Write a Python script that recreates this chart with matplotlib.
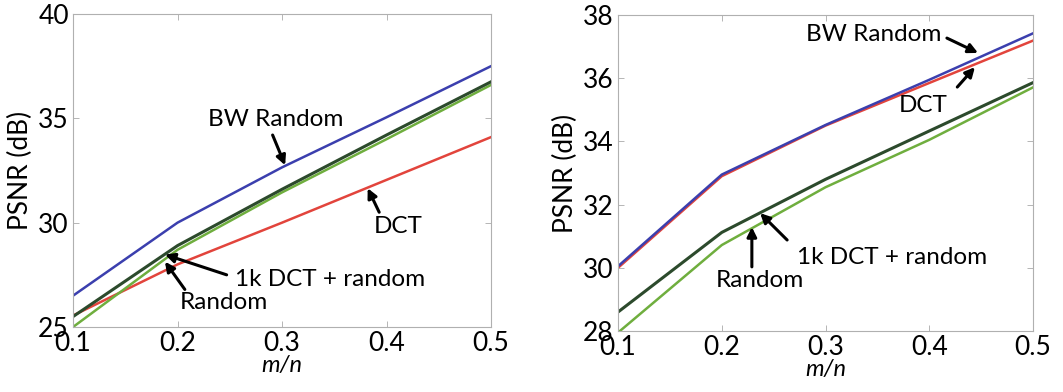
import matplotlib
matplotlib.use("Agg")
import matplotlib.pyplot as plt

plt.rcParams['font.family'] = ['Lato', 'DejaVu Sans']

x = [0.1, 0.2, 0.3, 0.4, 0.5]

# Left panel
left_bw = [26.5, 30.0, 32.65, 35.05, 37.5]
left_dct = [25.55, 28.0, 30.0, 32.05, 34.1]
left_1k = [25.5, 28.9, 31.6, 34.2, 36.75]
left_rand = [25.0, 28.7, 31.45, 34.0, 36.6]

# Right panel
right_bw = [30.05, 32.95, 34.52, 35.95, 37.42]
right_dct = [30.0, 32.9, 34.5, 35.85, 37.19]
right_1k = [28.6, 31.12, 32.8, 34.33, 35.86]
right_rand = [27.95, 30.72, 32.55, 34.05, 35.71]

xticks = [0.1, 0.2, 0.3, 0.4, 0.5]
xticklabels = ['0.1', '0.2', '0.3', '0.4', '0.5']
left_yticks = [25, 30, 35, 40]
right_yticks = [28, 30, 32, 34, 36, 38]

c_blue = '#3b3fae'
c_red = '#e2443c'
c_dark = '#2c4a2c'
c_light = '#6fae3e'

fig = plt.figure(figsize=(10.63, 3.92), dpi=100)
axL = fig.add_axes([0.0687, 0.1658, 0.3932, 0.7985])
axR = fig.add_axes([0.5814, 0.1556, 0.3904, 0.8061])

def style(ax, yticks):
    ax.set_xlim(0.1, 0.5)
    ax.set_ylim(yticks[0], yticks[-1])
    ax.set_xticks(xticks)
    ax.set_xticklabels(xticklabels)
    ax.set_yticks(yticks)
    ax.tick_params(direction='in', length=4, width=0.6, color='#aaaaaa',
                   labelsize=19, top=True, right=True)
    ax.tick_params(axis='x', pad=3)
    ax.tick_params(axis='y', pad=3)
    for s in ax.spines.values():
        s.set_color('#b0b0b0')
        s.set_linewidth(0.8)
    ax.set_xlabel('m/n', fontsize=17, style='italic', labelpad=-1)
    ax.set_ylabel('PSNR (dB)', fontsize=19, labelpad=4)

for ax, bw, dct, k1, rnd in [(axL, left_bw, left_dct, left_1k, left_rand),
                              (axR, right_bw, right_dct, right_1k, right_rand)]:
    ax.plot(x, dct, color=c_red, lw=1.8)
    ax.plot(x, bw, color=c_blue, lw=1.8)
    ax.plot(x, rnd, color=c_light, lw=1.8)
    ax.plot(x, k1, color=c_dark, lw=2.2)

style(axL, left_yticks)
style(axR, right_yticks)

arrow = dict(arrowstyle='-|>', color='black', lw=2.2, mutation_scale=14, shrinkA=0, shrinkB=0)
fs = 17.5

def ann(ax, text, tx, ty, ax_, ay_, hx, hy):
    ax.text(tx, ty, text, fontsize=fs, ha='center', va='center')
    ax.annotate('', xy=(hx, hy), xytext=(ax_, ay_), arrowprops=arrow)

ann(axL, 'BW Random', 0.294, 34.93, 0.291, 34.2, 0.303, 32.75)
ann(axL, 'DCT', 0.411, 29.8, 0.393, 30.5, 0.382, 31.65)
ann(axL, '1k DCT + random', 0.346, 27.27, 0.247, 27.5, 0.188, 28.47)
ann(axL, 'Random', 0.244, 26.17, 0.207, 26.8, 0.188, 28.13)

ann(axR, 'BW Random', 0.346, 37.37, 0.417, 37.27, 0.447, 36.8)
ann(axR, 'DCT', 0.394, 35.15, 0.427, 35.72, 0.444, 36.35)
ann(axR, '1k DCT + random', 0.364, 30.34, 0.263, 30.88, 0.237, 31.73)
ann(axR, 'Random', 0.237, 29.6, 0.229, 30.03, 0.229, 31.29)

fig.savefig('out.png', dpi=100)
